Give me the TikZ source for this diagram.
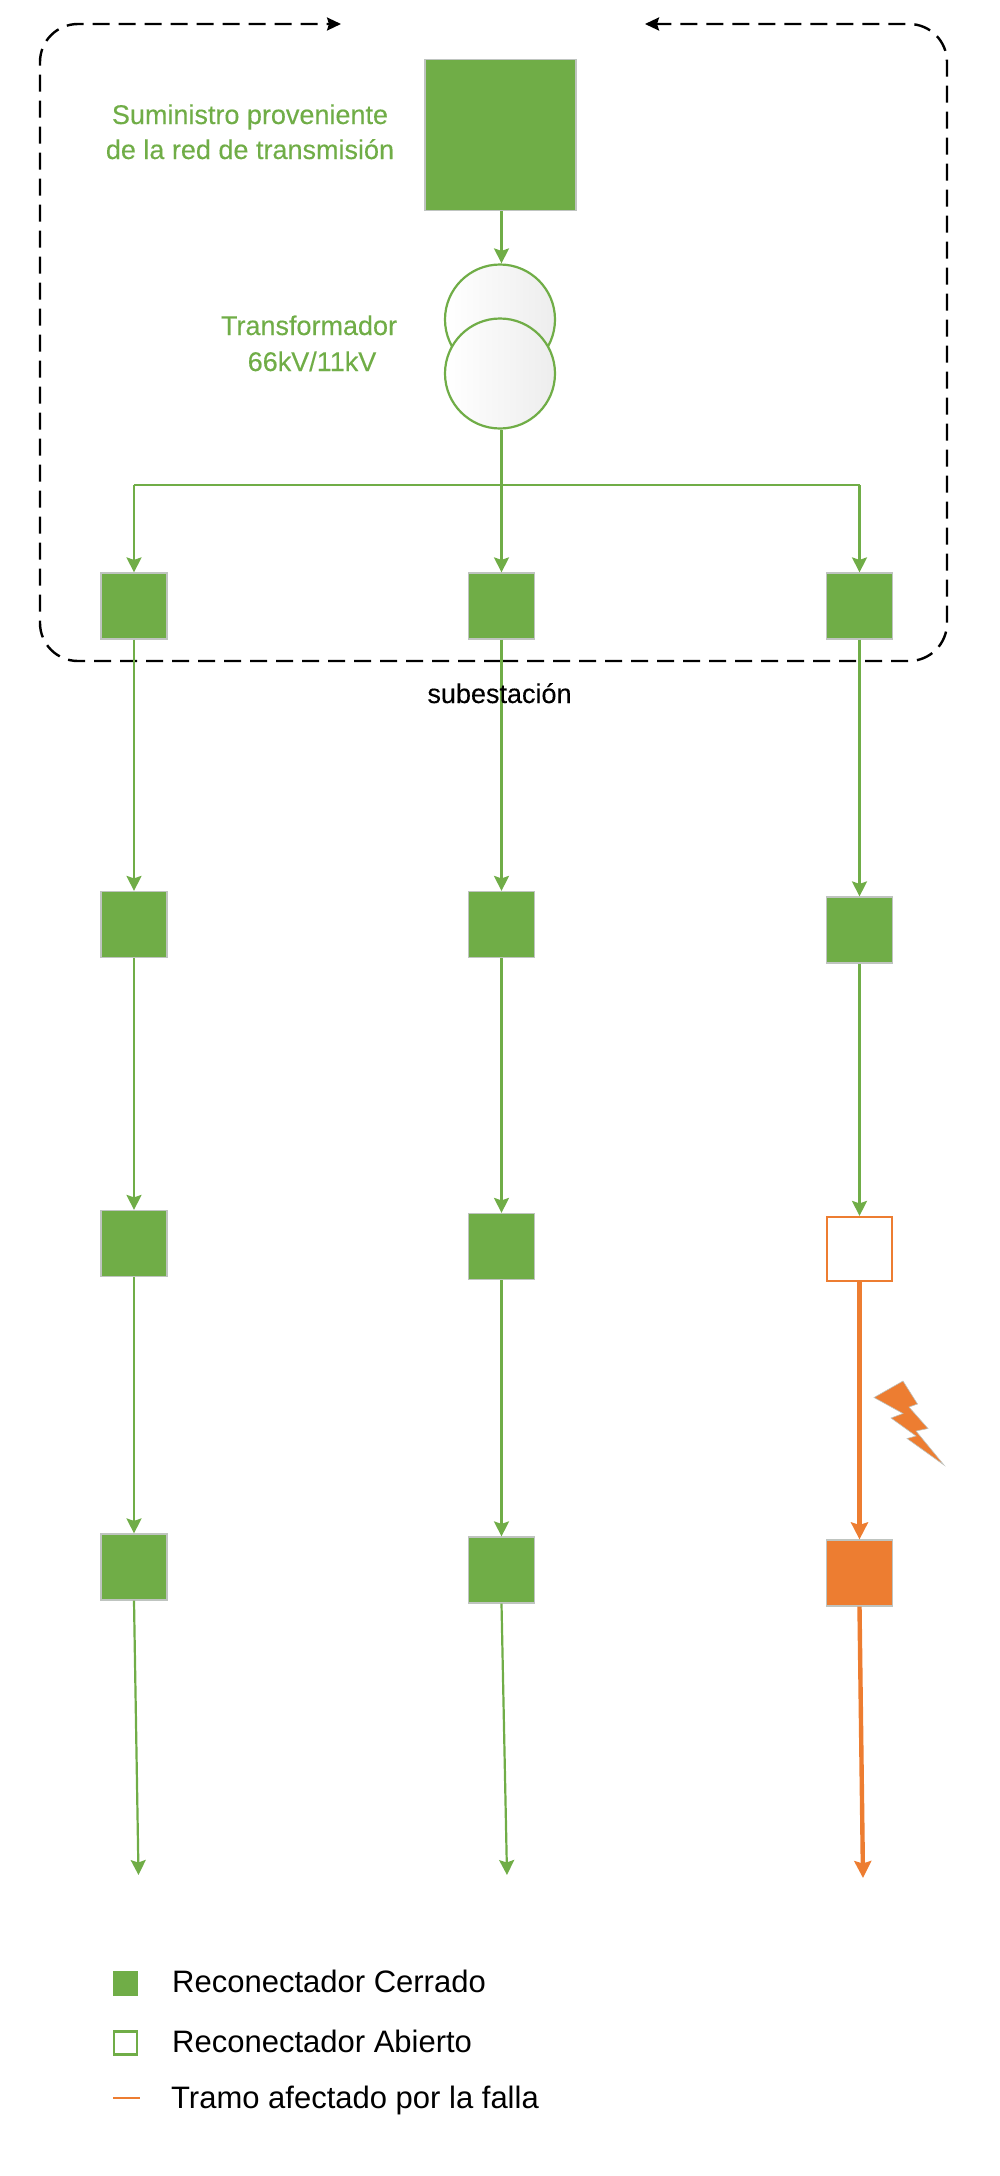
\documentclass[tikz,border=0pt]{standalone}
\usepackage{fontspec}
\setmainfont{Liberation Sans}
\newfontfamily\medfont[FakeBold=0.25]{Liberation Sans}
\usetikzlibrary{arrows.meta}
\definecolor{gr}{HTML}{70AD47}
\definecolor{og}{HTML}{ED7D31}
\definecolor{edgegray}{HTML}{BFC4C0}
\tikzset{
  x=1pt,y=-1pt,
  rec/.style={rectangle,draw=edgegray,line width=1.2pt,fill=gr,minimum width=66pt,minimum height=66pt,inner sep=0pt},
  bigrec/.style={rec,minimum width=151pt,minimum height=151pt},
  recopen/.style={rec,draw=og,line width=2.2pt,fill=white,minimum width=65pt,minimum height=64pt},
  recfault/.style={rec,fill=og},
  wire/.style={draw=gr,line width=2.2pt,-{Stealth[length=15pt,width=15pt,inset=2.5pt]}},
  wireplain/.style={draw=gr,line width=2.2pt},
  faultwire/.style={draw=og,line width=4.4pt,-{Stealth[length=17pt,width=17pt,inset=2.5pt]}},
  trafo/.style={circle,draw=gr,line width=2.2pt,left color=white,right color=black!7,minimum size=110pt,inner sep=0pt},
  dashline/.style={draw=black,line width=2.4pt,dash pattern=on 17pt off 9pt,rounded corners=38pt,-{Stealth[length=14pt,width=13pt,inset=2pt]}},
  greenlabel/.style={text=gr,font=\medfont\fontsize{27}{27}\selectfont,anchor=base,inner sep=0pt},
  blacklabel/.style={text=black,font=\medfont\fontsize{27}{27}\selectfont,anchor=base,inner sep=0pt},
  legendlabel/.style={text=black,font=\fontsize{31}{31}\selectfont,anchor=base west,inner sep=0pt},
}
\begin{document}
\begin{tikzpicture}
\useasboundingbox (0,0) rectangle (1000,2176);
% substation outline
\coordinate (dstart) at (501,661);
\coordinate (dleft) at (341,24);
\coordinate (dright) at (645,24);
\draw[dashline] (dstart) -- (40,661) -- (40,24) -- (dleft);
\draw[dashline] (dstart) -- (947,661) -- (947,24) -- (dright);
% supply and transformer
\node[bigrec] (big) at (500.5,135) {};
\node[trafo] (t1) at (500,319.5) {};
\node[trafo] (t2) at (500,373.5) {};
% reclosers
\node[rec] (a1) at (134,606) {};
\node[rec] (b1) at (501.5,606) {};
\node[rec] (c1) at (859.5,606) {};
\node[rec] (a2) at (134,924.5) {};
\node[rec] (b2) at (501.5,924.5) {};
\node[rec] (c2) at (859.5,930) {};
\node[rec] (a3) at (134,1243.5) {};
\node[rec] (b3) at (501.5,1246.5) {};
\node[recopen] (c3) at (859.5,1249) {};
\node[rec] (a4) at (134,1567) {};
\node[rec] (b4) at (501.5,1570) {};
\node[recfault] (c4) at (859.5,1573) {};
\coordinate (aend) at (138.5,1875);
\coordinate (bend) at (507,1875);
\coordinate (cend) at (863,1878);
\coordinate (bar) at (501.5,485);
% connectors
\draw[wire] (big.south -| b1) -- (t1.north -| b1);
\draw[wire] (t2.south -| b1) -- (b1.north);
\draw[wireplain] (a1 |- bar) -- (c1 |- bar);
\draw[wire] (a1 |- bar) -- (a1.north);
\draw[wire] (c1 |- bar) -- (c1.north);
\draw[wire] (a1.south) -- (a2.north);
\draw[wire] (a2.south) -- (a3.north);
\draw[wire] (a3.south) -- (a4.north);
\draw[wire] (a4.south) -- (aend);
\draw[wire] (b1.south) -- (b2.north);
\draw[wire] (b2.south) -- (b3.north);
\draw[wire] (b3.south) -- (b4.north);
\draw[wire] (b4.south) -- (bend);
\draw[wire] (c1.south) -- (c2.north);
\draw[wire] (c2.south) -- (c3.north);
\draw[faultwire] (c3.south) -- (c4.north);
\draw[faultwire] (c4.south) -- (cend);
% lightning
\fill[og,draw=edgegray,line width=0.6pt] (874,1397.5) -- (903,1381) -- (917.5,1404) -- (909,1407) -- (928,1428.5) -- (916,1431) -- (944,1465) -- (907,1438.5) -- (916,1436) -- (891,1418) -- (903,1413.5) -- cycle;
% labels
\node[greenlabel] (s1) at (250,124) {Suministro proveniente};
\node[greenlabel] (s2) at (250,159) {de la red de transmisión};
\node[greenlabel] (tr1) at (309,335) {Transformador};
\node[greenlabel] (tr2) at (312,371) {66kV/11kV};
\node[blacklabel] (sub) at (499.5,703) {subestación};
% legend
\node[rectangle,fill=gr,minimum size=25pt,inner sep=0pt] (l1) at (125.5,1983) {};
\node[rectangle,draw=gr,line width=2.2pt,fill=white,minimum size=23pt,inner sep=0pt] (l2) at (125.5,2043) {};
\coordinate (l3a) at (113,2098);
\coordinate (l3b) at (140,2098);
\draw[og,line width=2.2pt] (l3a) -- (l3b);
\node[legendlabel] (t1l) at (172,1992) {Reconectador Cerrado};
\node[legendlabel] (t2l) at (172,2052) {Reconectador Abierto};
\node[legendlabel] (t3l) at (171,2108) {Tramo afectado por la falla};
\end{tikzpicture}
\end{document}
